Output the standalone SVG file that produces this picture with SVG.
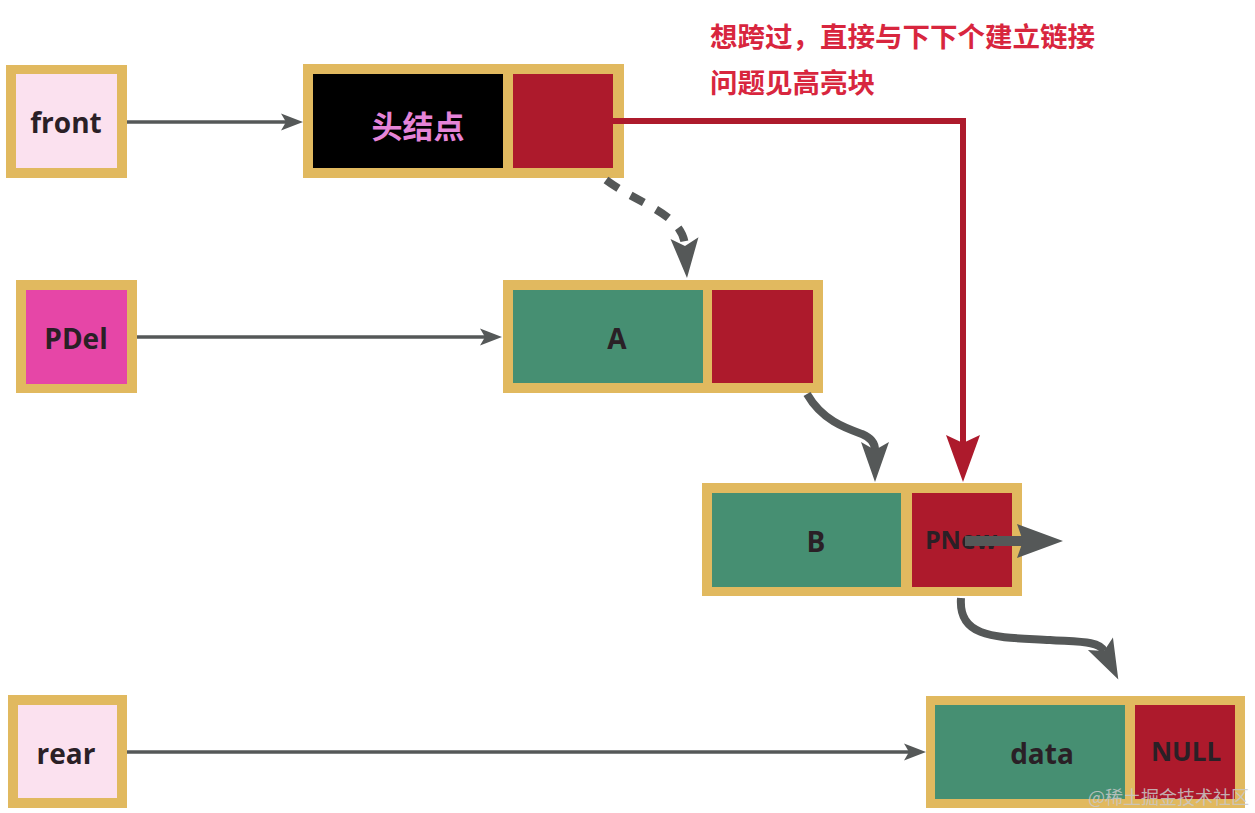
<svg xmlns="http://www.w3.org/2000/svg" width="1255" height="813" viewBox="0 0 1255 813">
<style>
.gold{fill:#E1B95F}
.pink{fill:#FBE1EF}
.mag{fill:#E646A7}
.green{fill:#468F72}
.red{fill:#AD1A2C}
.blk{fill:#000}
.lbl{font-family:"Open Sans","Noto Sans",sans-serif;font-weight:700;fill:#2A2026;text-anchor:middle;dominant-baseline:central}
.cjk{font-family:"Noto Sans CJK SC",sans-serif;font-weight:700}
.thin{fill:none;stroke:#555858;stroke-width:3.5}
.thick{fill:none;stroke:#555858;stroke-width:8}
</style>
<defs>
<marker id="mThin" markerUnits="userSpaceOnUse" markerWidth="22" markerHeight="17" refX="5" refY="8.5" orient="auto" overflow="visible"><path d="M0,0 L22,8.5 L0,17 L5,8.5 z" fill="#555858"/></marker>
<marker id="mGray" markerUnits="userSpaceOnUse" markerWidth="40" markerHeight="28" refX="8" refY="14" orient="auto" overflow="visible"><path d="M0,0 L40,14 L0,28 L8,14 z" fill="#555858"/></marker>
<marker id="mGrayW" markerUnits="userSpaceOnUse" markerWidth="46" markerHeight="34" refX="6" refY="17" orient="auto" overflow="visible"><path d="M0,0 L46,17 L0,34 L6,17 z" fill="#555858"/></marker>
<marker id="mRed" markerUnits="userSpaceOnUse" markerWidth="47" markerHeight="34" refX="8" refY="17" orient="auto" overflow="visible"><path d="M0,0 L47,17 L0,34 L8,17 z" fill="#AD1A2C"/></marker>
</defs>
<rect width="1255" height="813" fill="#fff"/>

<g id="front">
<rect class="gold" x="6" y="65" width="121" height="113"/>
<rect class="pink" x="16" y="74" width="101" height="94"/>
<text class="lbl" x="66" y="122" font-size="28">front</text>
</g>

<g id="head">
<rect class="gold" x="303" y="64" width="321" height="114"/>
<rect class="blk" x="313" y="74" width="190" height="94"/>
<rect class="red" x="513" y="74" width="100" height="94"/>
<text class="cjk" x="418" y="124" font-size="31" fill="#E584D8" text-anchor="middle" dominant-baseline="central">头结点</text>
</g>

<g id="pdel">
<rect class="gold" x="16" y="280" width="121" height="113"/>
<rect class="mag" x="26" y="290" width="101" height="94"/>
<text class="lbl" x="76" y="338" font-size="28">PDel</text>
</g>

<g id="nodeA">
<rect class="gold" x="503" y="280" width="320" height="113"/>
<rect class="green" x="513" y="290" width="190" height="93"/>
<rect class="red" x="712" y="290" width="101" height="93"/>
<text class="lbl" x="617" y="338" font-size="28">A</text>
</g>

<g id="nodeB">
<rect class="gold" x="702" y="483" width="320" height="113"/>
<rect class="green" x="712" y="493" width="189" height="94"/>
<rect class="red" x="912" y="493" width="100" height="94"/>
<text class="lbl" x="816" y="541" font-size="28">B</text>
<text class="lbl" x="961" y="539" font-size="25">PNew</text>
</g>

<g id="rear">
<rect class="gold" x="8" y="695" width="119" height="113"/>
<rect class="pink" x="18" y="705" width="99" height="93"/>
<text class="lbl" x="66" y="753" font-size="28">rear</text>
</g>

<g id="data">
<rect class="gold" x="926" y="696" width="319" height="112"/>
<rect class="green" x="935" y="705" width="190" height="94"/>
<rect class="red" x="1135" y="705" width="100" height="94"/>
<text class="lbl" x="1042" y="753" font-size="28">data</text>
<text class="lbl" x="1186" y="751" font-size="26">NULL</text>
</g>

<g id="connectors">
<line class="thin" x1="127" y1="122" x2="286" y2="122" marker-end="url(#mThin)"/>
<line class="thin" x1="137" y1="337" x2="485" y2="337" marker-end="url(#mThin)"/>
<line class="thin" x1="127" y1="752" x2="909" y2="752" marker-end="url(#mThin)"/>
<path d="M606,180 C640,205 683,214 685,246" fill="none" stroke="#555858" stroke-width="8" stroke-dasharray="15 14" marker-end="url(#mGray)"/>
<path d="M807,394 C822,420 845,428 862,434 C874,439 875,446 875,450" class="thick" marker-end="url(#mGray)"/>
<path d="M961,598 C958,640 1000,637 1050,640 C1080,642 1099,641 1104,651" class="thick" marker-end="url(#mGray)"/>
<line x1="965" y1="541" x2="1023" y2="541" stroke="#555858" stroke-width="10" marker-end="url(#mGrayW)"/>
<path d="M613,121 L963,121 L963,443" fill="none" stroke="#AD1A2C" stroke-width="6" marker-end="url(#mRed)"/>
</g>

<g id="note" class="cjk" font-size="27.5" fill="#D8263E">
<text x="710" y="47">想跨过，直接与下下个建立链接</text>
<text x="710" y="93">问题见高亮块</text>
</g>

<text x="1088" y="804" font-family="Noto Sans CJK SC,sans-serif" font-size="18" fill="#C8C8C8" fill-opacity="0.85">@稀土掘金技术社区</text>
</svg>
